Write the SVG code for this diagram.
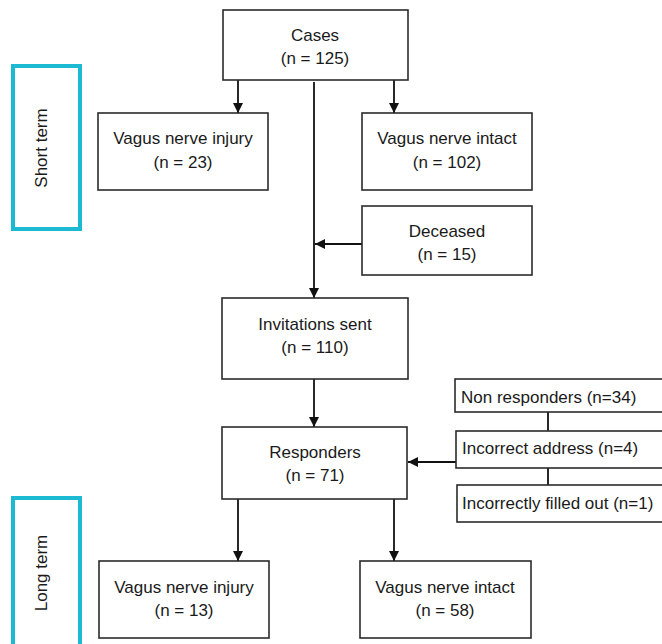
<svg xmlns="http://www.w3.org/2000/svg" width="662" height="644" viewBox="0 0 662 644">
<style>
.box{fill:#fff;stroke:#2b2b2b;stroke-width:1.6}
.term{fill:none;stroke:#1bb9d2;stroke-width:4}
text{font-family:"Liberation Sans",Arial,sans-serif;font-size:17px;fill:#1a1a1a}
.c{text-anchor:middle}
.ln{stroke:#111;stroke-width:1.8;fill:none}
</style>
<defs>
<marker id="ah" viewBox="0 0 10 10" refX="10" refY="5" markerWidth="10" markerHeight="10" markerUnits="userSpaceOnUse" orient="auto">
<path d="M0,0 L10,5 L0,10 z" fill="#111"/>
</marker>
</defs>
<g id="short-term"><rect class="term" x="13" y="66" width="67" height="163"/><text class="c" transform="rotate(-90 47 148)" x="47" y="148">Short term</text></g>
<g id="long-term"><rect class="term" x="13" y="498" width="67" height="170"/><text class="c" transform="rotate(-90 47 573)" x="47" y="573">Long term</text></g>
<g id="connectors">
<line class="ln" x1="238" y1="80" x2="238" y2="113" marker-end="url(#ah)"/>
<line class="ln" x1="394" y1="80" x2="394" y2="113" marker-end="url(#ah)"/>
<line class="ln" x1="314" y1="82" x2="314" y2="298" marker-end="url(#ah)"/>
<line class="ln" x1="362" y1="244" x2="315" y2="244" marker-end="url(#ah)"/>
<line class="ln" x1="314" y1="379" x2="314" y2="427" marker-end="url(#ah)"/>
<line class="ln" x1="456" y1="462" x2="408" y2="462" marker-end="url(#ah)"/>
<line class="ln" x1="548" y1="412" x2="548" y2="431"/>
<line class="ln" x1="548" y1="468" x2="548" y2="485"/>
<line class="ln" x1="238" y1="499" x2="238" y2="561" marker-end="url(#ah)"/>
<line class="ln" x1="394" y1="499" x2="394" y2="561" marker-end="url(#ah)"/>
</g>
<g id="cases"><rect class="box" x="223" y="10" width="185" height="70"/><text class="c" x="315" y="41">Cases</text><text class="c" x="315" y="64">(n = 125)</text></g>
<g id="injury-short"><rect class="box" x="98" y="113" width="170" height="77"/><text class="c" x="183" y="144">Vagus nerve injury</text><text class="c" x="183" y="168">(n = 23)</text></g>
<g id="intact-short"><rect class="box" x="362" y="113" width="170" height="77"/><text class="c" x="447" y="144">Vagus nerve intact</text><text class="c" x="447" y="168">(n = 102)</text></g>
<g id="deceased"><rect class="box" x="362" y="206" width="170" height="69"/><text class="c" x="447" y="237">Deceased</text><text class="c" x="447" y="260">(n = 15)</text></g>
<g id="invitations"><rect class="box" x="222" y="298" width="186" height="81"/><text class="c" x="315" y="330">Invitations sent</text><text class="c" x="315" y="353">(n = 110)</text></g>
<g id="responders"><rect class="box" x="222" y="427" width="185" height="72"/><text class="c" x="315" y="458">Responders</text><text class="c" x="315" y="481">(n = 71)</text></g>
<g id="non-responders"><rect class="box" x="455" y="379" width="215" height="33"/><text x="461" y="403">Non responders (n=34)</text></g>
<g id="incorrect-address"><rect class="box" x="456" y="431" width="214" height="37"/><text x="462" y="454">Incorrect address (n=4)</text></g>
<g id="incorrectly-filled"><rect class="box" x="457" y="485" width="213" height="37"/><text x="462" y="509">Incorrectly filled out (n=1)</text></g>
<g id="injury-long"><rect class="box" x="99" y="561" width="170" height="77"/><text class="c" x="184" y="593">Vagus nerve injury</text><text class="c" x="184" y="616">(n = 13)</text></g>
<g id="intact-long"><rect class="box" x="360" y="561" width="171" height="77"/><text class="c" x="445" y="593">Vagus nerve intact</text><text class="c" x="445" y="616">(n = 58)</text></g>
</svg>
